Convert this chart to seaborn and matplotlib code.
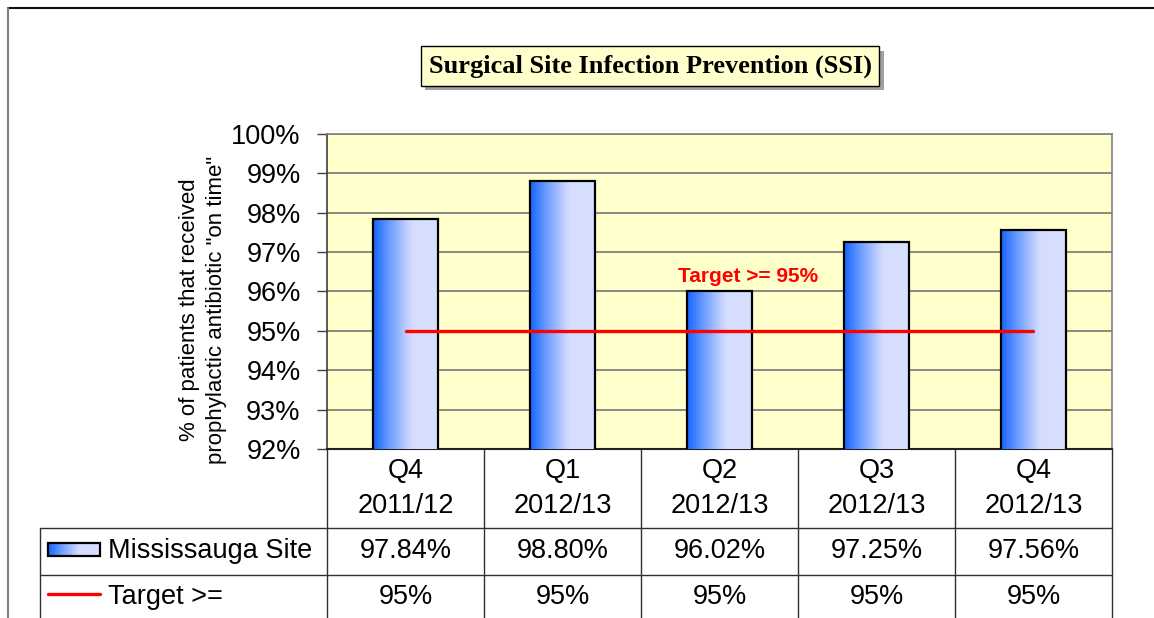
import numpy as np
import matplotlib
matplotlib.use("Agg")
import matplotlib.pyplot as plt
import matplotlib.patheffects as pe
from matplotlib.colors import LinearSegmentedColormap
from matplotlib.patches import Rectangle
import seaborn as sns

# ---- data ----
quarters = ["Q4", "Q1", "Q2", "Q3", "Q4"]
years = ["2011/12", "2012/13", "2012/13", "2012/13", "2012/13"]
site_values = [97.84, 98.80, 96.02, 97.25, 97.56]
site_labels = ["97.84%", "98.80%", "96.02%", "97.25%", "97.56%"]
target_values = [95, 95, 95, 95, 95]
target_labels = ["95%", "95%", "95%", "95%", "95%"]
series_names = ["Mississauga Site", "Target >="]
title = "Surgical Site Infection Prevention (SSI)"
ylabel = '% of patients that received\nprophylactic antibiotic "on time"'
target_note = "Target >= 95%"
y_ticks = [92, 93, 94, 95, 96, 97, 98, 99, 100]

sns.set_style("white")
plt.rcParams['font.family'] = ['Liberation Sans', 'DejaVu Sans']
plt.rcParams['text.color'] = 'black'
plt.rcParams['axes.labelcolor'] = 'black'
plt.rcParams['ytick.color'] = 'black'
plt.rcParams['xtick.color'] = 'black'

fig = plt.figure(figsize=(11.54, 6.18), dpi=100)
ax = fig.add_axes([0.2834, 0.2735, 0.6802, 0.5097])
ax.set_facecolor("#FFFFCC")

cats = [f"{q}\n{y}" for q, y in zip(quarters, years)]
sns.barplot(x=cats, y=site_values, width=0.41, color="#80A0FF",
            edgecolor="black", linewidth=1.6, ax=ax, zorder=3)

grad_cmap = LinearSegmentedColormap.from_list(
    "barg", [(0.0, "#1464FF"), (0.25, "#6A9CFF"), (0.55, "#C8D4FF"),
             (0.62, "#D6DEFF"), (1.0, "#D8E0FF")])
grad = np.linspace(0, 1, 256).reshape(1, -1)

ymin, ymax = 92, 100
for p in ax.patches:
    x0, w, h = p.get_x(), p.get_width(), p.get_height()
    p.set_facecolor("none")
    p.set_zorder(4)
    im = ax.imshow(grad, cmap=grad_cmap, aspect="auto",
                   extent=[x0, x0 + w, ymin, h], zorder=3)
    im.set_clip_path(p)

# target line
sns.lineplot(x=np.arange(len(target_values)), y=target_values, color="#FF0000",
             linewidth=2.4, ax=ax, zorder=5)
ax.text(2.18, 96.39, target_note, color="#FF0000", fontsize=15,
        fontweight="bold", ha="center", va="center", zorder=6)

ax.set_xlim(-0.5, len(cats) - 0.5)
ax.set_ylim(ymin, ymax)
ax.set_yticks(y_ticks)
ax.set_yticklabels([f"{t}%" for t in y_ticks], fontsize=19.5)
ax.tick_params(axis="y", direction="out", length=7, width=1, color="#404040",
               pad=12, left=True, labelcolor="black")
ax.tick_params(axis="x", length=0, labelbottom=False)
ax.set_xlabel("")
ax.grid(axis="y", color="#808080", linewidth=1.3, zorder=1)
ax.set_axisbelow(True)
for s in ["top", "right"]:
    ax.spines[s].set_color("#808080")
    ax.spines[s].set_linewidth(1.2)
ax.spines["left"].set_color("#404040")
ax.spines["left"].set_linewidth(1.2)
ax.spines["bottom"].set_color("#202020")
ax.spines["bottom"].set_linewidth(1.5)

ax.set_ylabel(ylabel, fontsize=16, linespacing=1.4, color="black")
ax.yaxis.set_label_coords(-0.127, 0.441)

# title box with shadow
t = ax.text(0.4115, 1.2159, title, transform=ax.transAxes, ha="center",
            va="center", fontsize=19, fontweight="bold",
            family="Liberation Serif", color="black",
            bbox=dict(boxstyle="square,pad=0.3", fc="#FFFFCC", ec="black", lw=1))
t.get_bbox_patch().set_path_effects([
    pe.SimplePatchShadow(offset=(3, -3), shadow_rgbFace="#A0A0A0", alpha=1.0),
    pe.Normal()])

# ---- data table below the axis ----
trans = ax.get_xaxis_transform()
line_kw = dict(color="#303030", linewidth=1, transform=trans, clip_on=False)
leg_left = -2.328
row1_bot, row2_bot, tab_bot = -0.2508, -0.40, -0.60
for i in range(len(cats) + 1):
    ax.plot([i - 0.5, i - 0.5], [0, tab_bot], **line_kw)
ax.plot([leg_left, len(cats) - 0.5], [row1_bot, row1_bot], **line_kw)
ax.plot([leg_left, len(cats) - 0.5], [row2_bot, row2_bot], **line_kw)
ax.plot([leg_left, leg_left], [row1_bot, tab_bot], **line_kw)

for i in range(len(cats)):
    ax.text(i, -0.1254, cats[i], transform=trans, ha="center", va="center",
            fontsize=19.5, linespacing=1.45)
    ax.text(i, -0.3254, site_labels[i], transform=trans, ha="center",
            va="center", fontsize=19.5)
    ax.text(i, -0.4698, target_labels[i], transform=trans, ha="center",
            va="center", fontsize=19.5)

# legend keys
ax.text(-1.895, -0.3254, series_names[0], transform=trans, ha="left",
        va="center", fontsize=19.5)
ax.text(-1.895, -0.4698, series_names[1], transform=trans, ha="left",
        va="center", fontsize=19.5)
ky0, ky1 = ymin + (-0.3397) * (ymax - ymin), ymin + (-0.2984) * (ymax - ymin)
key_rect = Rectangle((-2.277, ky0), 0.331, ky1 - ky0, fc="none", ec="black",
                     lw=1.6, clip_on=False, zorder=6)
ax.add_patch(key_rect)
kim = ax.imshow(grad, cmap=grad_cmap, aspect="auto",
                extent=[-2.277, -1.946, ky0, ky1], zorder=5)
kim.set_clip_on(False)
ax.plot([-2.277, -1.946], [-0.4603, -0.4603], color="#FF0000", linewidth=2.4,
        transform=trans, clip_on=False)

ax.set_xlim(-0.5, len(cats) - 0.5)
ax.set_ylim(ymin, ymax)

# outer frame
fig.add_artist(plt.Line2D([8 / 1154, 1], [1 - 8 / 618, 1 - 8 / 618],
                          transform=fig.transFigure, color="#101010", lw=1.5))
fig.add_artist(plt.Line2D([8 / 1154, 8 / 1154], [0, 1 - 8 / 618],
                          transform=fig.transFigure, color="#808080", lw=1.5))

fig.savefig("out.png", dpi=100)
